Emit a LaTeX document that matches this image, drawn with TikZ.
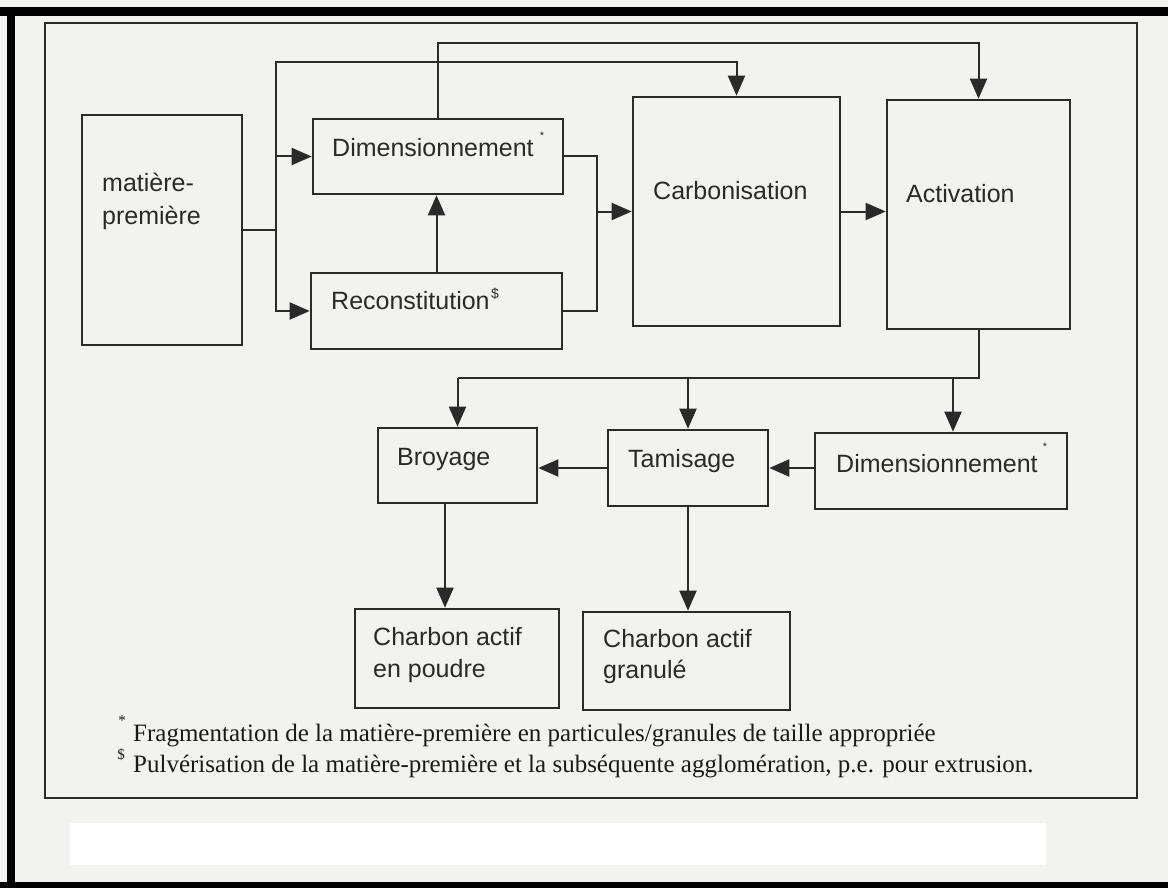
\documentclass[tikz,border=0pt]{standalone}
\usepackage{fontspec}
\setmainfont{Liberation Serif}
\newfontfamily\boxfont{Liberation Sans}
\usetikzlibrary{arrows.meta}
\definecolor{ink}{HTML}{2A2A2A}
\definecolor{paper}{HTML}{F2F2F0}
\definecolor{inknote}{HTML}{1A1A1A}
\begin{document}
\begin{tikzpicture}[x=1pt,y=-1pt,
  box/.style={draw=ink, line width=2.6pt, inner sep=0pt},
  lbl/.style={anchor=base west, inner sep=0pt, text=ink, font=\boxfont\fontsize{25}{32}\selectfont},
  supmark/.style={inner sep=0pt, text=ink, font=\boxfont\fontsize{11}{12}\selectfont},
  dolmark/.style={inner sep=0pt, text=ink, font=\boxfont\fontsize{14}{15}\selectfont},
  conn/.style={draw=ink, line width=2pt},
  arr/.style={conn, -{Triangle[length=20pt,width=17pt]}},
  note/.style={anchor=base west, inner sep=0pt, text=inknote, font=\fontsize{25}{31}\selectfont},
  notemark/.style={inner sep=0pt, text=inknote, font=\fontsize{15}{16}\selectfont}
]
\useasboundingbox (0,0) rectangle (1168,888);
% paper and scan borders
\fill[paper] (0,0) rectangle (1168,888);
\fill[white] (70,823) rectangle (1046,865);
\fill[black] (0,7) rectangle (1168,16);
\fill[black] (7,7) rectangle (15,888);
\fill[black] (0,882) rectangle (1168,888);
% figure frame
\draw[ink, line width=2.2pt] (45,23) rectangle (1137,798);

% boxes
\node[box, minimum width=160pt, minimum height=230pt] (mp) at (162,230) {};
\node[box, minimum width=250pt, minimum height=75pt] (dim1) at (438,156.5) {};
\node[box, minimum width=251pt, minimum height=76pt] (recon) at (436.5,311) {};
\node[box, minimum width=207pt, minimum height=229pt] (carbo) at (736.5,211.5) {};
\node[box, minimum width=183pt, minimum height=229pt] (activ) at (978.5,214.5) {};
\node[box, minimum width=159pt, minimum height=75pt] (broy) at (457.5,465.5) {};
\node[box, minimum width=160pt, minimum height=76pt] (tamis) at (688,468) {};
\node[box, minimum width=252pt, minimum height=76pt] (dim2) at (941,471) {};
\node[box, minimum width=204pt, minimum height=99pt] (poudre) at (457,658.5) {};
\node[box, minimum width=207pt, minimum height=98pt] (granule) at (686.5,661) {};

% labels
\node[lbl] (tmp1) at (102,192) {matière-};
\node[lbl] (tmp2) at (102,225) {première};
\node[lbl] (tdim1) at (332,157) {Dimensionnement};
\node[supmark] (sdim1) at (542,136) {*};
\node[lbl] (trecon) at (331,309) {Reconstitution};
\node[dolmark] (srecon) at (495,294) {\$};
\node[lbl] (tcarbo) at (653,200) {Carbonisation};
\node[lbl] (tactiv) at (906,202) {Activation};
\node[lbl] (tbroy) at (397,465) {Broyage};
\node[lbl] (ttamis) at (628,467) {Tamisage};
\node[lbl] (tdim2) at (836,472) {Dimensionnement};
\node[supmark] (sdim2) at (1045,447) {*};
\node[lbl] (tpou1) at (373,645) {Charbon actif};
\node[lbl] (tpou2) at (373,677) {en poudre};
\node[lbl] (tgra1) at (603,647) {Charbon actif};
\node[lbl] (tgra2) at (603,678) {granulé};

% connectors
\coordinate (j1) at (276,230);
\coordinate (j1top) at (276,62);
\coordinate (top2) at (438,43);
\coordinate (j2) at (597,211.5);
\coordinate (bus) at (0,378);
\coordinate (b3) at (953,378);
\draw[conn] (mp.east) -- (j1);
\draw[arr] (j1) |- (dim1.west);
\draw[arr] (j1) |- (recon.west);
\draw[arr] (j1) -- (j1top) -| (carbo.north);
\draw[arr] (recon.north) -- (recon.north |- dim1.south);
\draw[arr] (dim1.north) -- (top2) -| (activ.north);
\draw[conn] (dim1.east) -| (j2);
\draw[conn] (recon.east) -| (j2);
\draw[arr] (j2) -- (j2 -| carbo.west);
\draw[arr] (carbo.east) -- (carbo.east -| activ.west);
\draw[conn] (activ.south) -- (activ.south |- bus) -- (broy.north |- bus);
\draw[arr] (broy.north |- bus) -- (broy.north);
\draw[arr] (tamis.north |- bus) -- (tamis.north);
\draw[arr] (b3) -- (b3 |- dim2.north);
\draw[arr] (dim2.west |- tamis.east) -- (tamis.east);
\draw[arr] (tamis.west) -- (tamis.west -| broy.east);
\draw[arr] ([xshift=-12.5pt]broy.south) -- ([xshift=-12.5pt]broy.south |- poudre.north);
\draw[arr] (tamis.south) -- (tamis.south |- granule.north);

% footnotes
\node[notemark] (fm1) at (122,721) {*};
\node[notemark] (fm2) at (121,755) {\$};
\node[note] (fn1) at (133,741) {Fragmentation de la matière-première en particules/granules de taille appropriée};
\node[note] (fn2) at (133,772) {Pulvérisation de la matière-première et la subséquente agglomération, p.e. pour extrusion.};
\end{tikzpicture}
\end{document}
